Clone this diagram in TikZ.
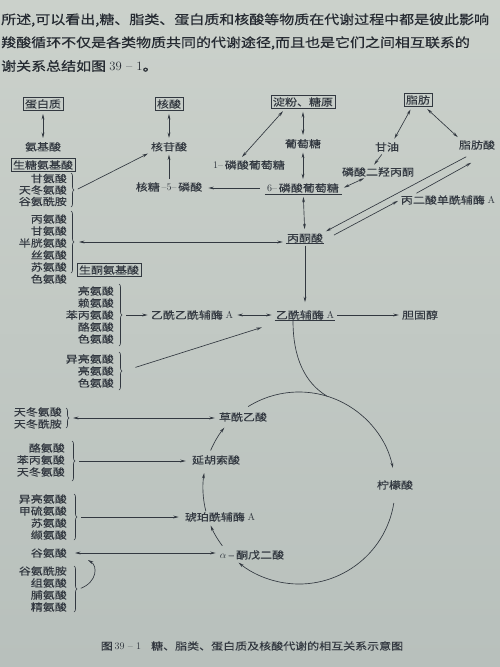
\documentclass[tikz,border=0pt]{standalone}
\usepackage{fontspec}
\newfontfamily\cjk[FakeStretch=1.2,FakeBold=0.25]{Noto Sans CJK SC}
\newfontfamily\cjkbody[FakeStretch=1.18,FakeBold=0.6]{Noto Sans CJK SC}
\usepackage{tikz}
\usetikzlibrary{positioning}
\usetikzlibrary{calc}
\usetikzlibrary{arrows.meta}
\usetikzlibrary{decorations.pathreplacing}

\definecolor{ink}{RGB}{50,56,64}
\definecolor{bodyink}{RGB}{38,43,50}
\definecolor{paper}{RGB}{203,209,203}
\definecolor{paperdark}{RGB}{184,192,188}

\begin{document}
\begin{tikzpicture}[x=1pt,y=-1pt,
		lbl/.style={font={\cjk\fontsize{10}{12}\selectfont},text=ink,inner sep=1pt},
		boxed/.style={lbl,draw=ink,line width=.65pt,inner sep=2pt},
		col/.style={lbl,align=right,anchor=east},
		body/.style={font={\cjkbody\fontsize{12.7}{21}\selectfont},text=bodyink,inner sep=0pt,anchor=west},
		ln/.style={draw=ink,line width=.65pt},
		arr/.style={ln,-{Stealth[length=5.5pt,width=2.8pt]},shorten >=2pt,shorten <=2pt},
		darr/.style={ln,{Stealth[length=5.5pt,width=2.8pt]}-{Stealth[length=5.5pt,width=2.8pt]},shorten >=3pt,shorten <=3pt},
		brc/.style={ln,decorate,decoration={brace,amplitude=3pt}}]

		\useasboundingbox (0,0) rectangle (500,667);
		\shade[top color=paper,bottom color=paperdark] (0,0) rectangle (500,667);
		\clip (0,0) rectangle (500,667);

		\node[body] at (1,20) (p1) {所述,可以看出,糖、脂类、蛋白质和核酸等物质在代谢过程中都是彼此影响};
		\node[body] at (1,43) (p2) {羧酸循环不仅是各类物质共同的代谢途径,而且也是它们之间相互联系的};
		\node[body] at (1,66) (p3) {谢关系总结如图 \textrm{39 – 1}。};

		% proteins and amino acids
		\node[boxed] at (43,104) (prot) {蛋白质};
		\node[lbl, below = 30pt of prot] (aa) {氨基酸};
		\node[boxed] at (43,165) (gbox) {生糖氨基酸};
		\node[col,font={\cjk\fontsize{10}{11.5}\selectfont}] at (68,190) (g1) {甘氨酸\\天冬氨酸\\谷氨酰胺};
		\node[col] at (68,249) (g2) {丙氨酸\\甘氨酸\\半胱氨酸\\丝氨酸\\苏氨酸\\色氨酸};
		\node[boxed] at (109,270) (kbox) {生酮氨基酸};
		\node[col] at (115,315) (k1) {亮氨酸\\赖氨酸\\苯丙氨酸\\酪氨酸\\色氨酸};
		\node[col] at (115,371) (k2) {异亮氨酸\\亮氨酸\\色氨酸};
		\node[col] at (63,418) (asp) {天冬氨酸\\天冬酰胺};
		\node[col] at (66,460) (t1) {酪氨酸\\苯丙氨酸\\天冬氨酸};
		\node[col] at (68,517) (t2) {异亮氨酸\\甲硫氨酸\\苏氨酸\\缬氨酸};
		\node[col] at (68,553) (glu) {谷氨酸};
		\node[col] at (68,589) (t3) {谷氨酰胺\\组氨酸\\脯氨酸\\精氨酸};

		% nucleic acids
		\node[boxed] at (169,104) (nuc) {核酸};
		\node[lbl, below = 30pt of nuc] (nt) {核苷酸};
		\node[lbl] at (169,187) (r5p) {核糖\,\textrm{–5–}\,磷酸};

		% sugars
		\node[boxed] at (303,102) (starch) {淀粉、糖原};
		\node[lbl, below = 29pt of starch] (glc) {葡萄糖};
		\node[lbl] at (249,165) (g1p) {\textrm{1–}\,磷酸葡萄糖};
		\node[lbl] at (303,188) (g6p) {\textrm{6–}\,磷酸葡萄糖};
		\node[lbl] at (305,238) (pyr) {丙酮酸};

		% lipids
		\node[boxed] at (418,100) (fat) {脂肪};
		\node[lbl] at (387,147) (glyc) {甘油};
		\node[lbl] at (477,145) (fa) {脂肪酸};
		\node[lbl] at (378,172) (dhap) {磷酸二羟丙酮};
		\node[lbl] at (448,200) (mal) {丙二酸单酰辅酶 \textrm{A}};

		\node[lbl] at (192,315) (aacoa) {乙酰乙酰辅酶 \textrm{A}};
		\node[lbl] at (305,315) (acoa) {乙酰辅酶 \textrm{A}};
		\node[lbl] at (420,315) (chol) {胆固醇};

		% citric acid cycle
		\coordinate (tca) at (299,488);
		\node[lbl] at (243,417) (oaa) {草酰乙酸};
		\node[lbl] at (216,460) (fum) {延胡索酸};
		\node[lbl] at (220,517) (suc) {琥珀酰辅酶 \textrm{A}};
		\node[lbl] at (252,555) (akg) {$\alpha$\,–\,酮戊二酸};
		\node[lbl] at (395,485) (cit) {柠檬酸};

		\node[lbl] at (252,646) (cap) {图\,\textrm{39 – 1}\quad 糖、脂类、蛋白质及核酸代谢的相互关系示意图};

		% braces
		\draw[brc] (71,173) -- (71,207);
		\draw[brc] (71,211) -- (71,273);
		\draw[brc] (119,284) -- (119,346);
		\draw[brc] (119,352) -- (119,390);
		\draw[brc] (66,408) -- (66,428);
		\draw[brc] (72,441) -- (72,481);
		\draw[brc] (74,494) -- (74,540);
		\draw[brc] (74,566) -- (74,612);
		\coordinate (g1tip) at (76,190);
		\coordinate (g2tip) at (76,242);
		\coordinate (k1tip) at (124,315);
		\coordinate (k2tip) at (124,371);
		\coordinate (asptip) at (70,418);
		\coordinate (t1tip) at (77,461);
		\coordinate (t2tip) at (79,517);
		\coordinate (t3tip) at (79,589);
		\coordinate (glutip) at (88,560);

		% underlines
		\draw[ln] ([xshift=-1pt]g6p.south west) -- ([xshift=2pt]g6p.south east);
		\draw[ln] (pyr.south west) -- (pyr.south east);
		\draw[ln] (acoa.south west) -- (acoa.south east);

		\draw[darr] (prot) -- (aa);
		\draw[darr] (nuc) -- (nt);
		\draw[arr] (r5p) -- (nt);
		\draw[darr] (starch) -- (glc);
		\draw[darr] (glc) -- (g6p);
		\draw[darr] (g6p) -- (pyr);
		\draw[darr] ([xshift=-9pt]g1p.north) -- ([xshift=-18pt]starch.south);
		\draw[arr,shorten <=6pt,shorten >=5pt] (g6p.west) -- (g6p.west -| r5p.east);

		\draw[darr] ([xshift=-6pt]fat.south) -- ([xshift=6pt]glyc.north);
		\draw[darr] ([xshift=7pt]fat.south) -- ([xshift=-17pt]fa.north);
		\draw[arr] ([xshift=-4pt]glyc.south) -- ([xshift=-5pt]dhap.north);
		\draw[darr,shorten <=1pt,shorten >=1pt] ([xshift=-13pt]dhap.south) -- ([xshift=3pt]g6p.east);
		\draw[arr] ([xshift=-9pt,yshift=-5pt]fa.south) -- (pyr.north east);
		\draw[arr] ([xshift=8pt,yshift=2pt]pyr.east) -- (mal.west);
		\draw[arr] ([xshift=15pt]mal.north west) -- ([xshift=-4pt,yshift=-11pt]fa.south);

		\draw[arr] (g1tip) -- (nt.south west);
		\draw[darr] (g2tip) -- (g2tip -| pyr.west);
		\draw[arr,shorten >=7pt] (pyr) -- (acoa);
		\draw[arr] (k1tip) -- (aacoa.west);
		\draw[darr] (aacoa.east) -- (acoa.west);
		\draw[arr,shorten <=12pt] (k2tip) -- ([xshift=-11pt,yshift=-6pt]acoa.south west);
		\draw[arr] (acoa.east) -- (chol.west);

		\draw[darr] (asptip) -- (asptip -| oaa.west);
		\draw[arr,shorten >=5pt] (t1tip) -- (t1tip -| fum.west);
		\draw[arr,shorten >=5pt] (t2tip) -- (t2tip -| suc.west);
		\draw[darr,shorten <=7pt] (glu.east) -- (glu.east -| akg.west);
		\draw[arr,shorten >=0pt] (t3tip) .. controls (97,582) and (98,566) .. (glutip);

		% cycle
		\coordinate (merge) at ([shift={(-73:96)}]tca);
		\draw[ln] ([xshift=-12pt]acoa.south) .. controls (293,358) and (305,383) .. (merge);
		\draw[arr,shorten <=0pt,shorten >=0pt] ([shift={(-122:96)}]tca) arc[start angle=-122,end angle=-12,radius=96];
		\draw[arr,shorten <=0pt,shorten >=0pt] ([shift={(9:96)}]tca) arc[start angle=9,end angle=129,radius=96];
		\draw[arr,shorten <=0pt,shorten >=0pt] ([shift={(143:96)}]tca) arc[start angle=143,end angle=157,radius=96];
		\draw[arr,shorten <=0pt,shorten >=0pt] ([shift={(166:96)}]tca) arc[start angle=166,end angle=189,radius=96];
		\draw[arr,shorten <=0pt,shorten >=0pt] ([shift={(203:96)}]tca) arc[start angle=203,end angle=219,radius=96];
	\end{tikzpicture}
\end{document}
